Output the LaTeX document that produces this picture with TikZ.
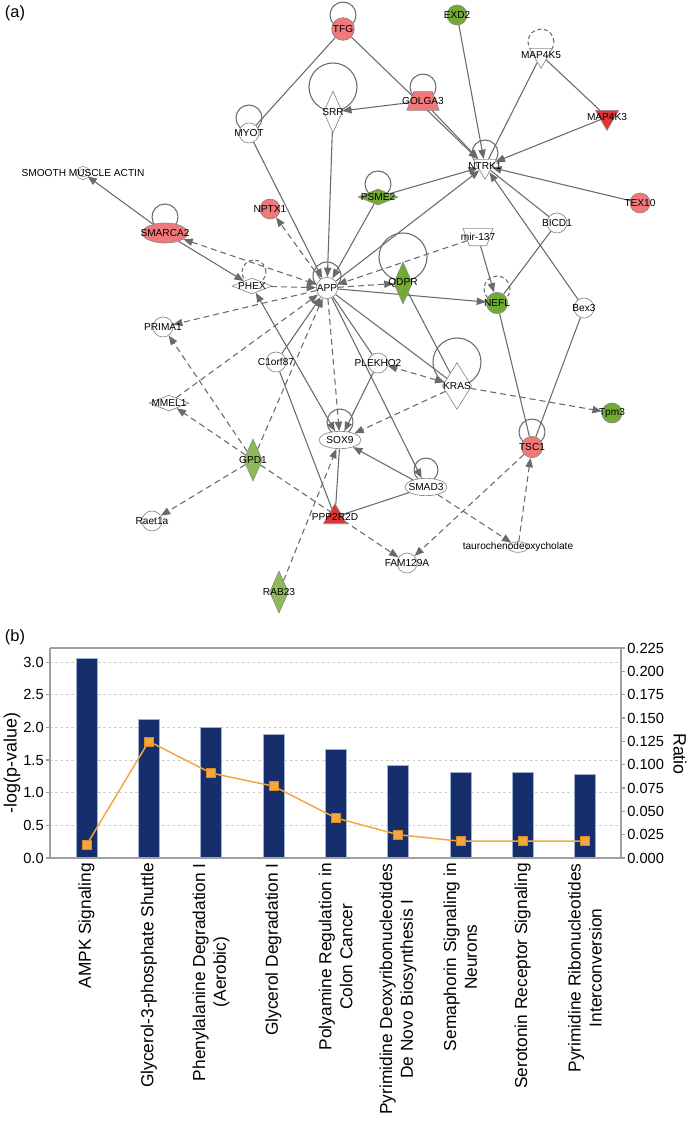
\documentclass[tikz,border=0pt]{standalone}
\usepackage{fontspec}
\setmainfont{Liberation Sans}
\usetikzlibrary{shapes.geometric,arrows.meta,calc,backgrounds}
\definecolor{UpRed}{HTML}{F07878}
\definecolor{StrongRed}{HTML}{E03434}
\definecolor{DownGreen}{HTML}{72AB32}
\definecolor{LightGreen}{HTML}{8EBB58}
\definecolor{EdgeGray}{HTML}{6A6A6A}
\definecolor{NodeGray}{HTML}{8A8A8A}
\definecolor{BarNavy}{HTML}{172E6C}
\definecolor{BarEdge}{HTML}{9FB0D0}
\definecolor{RatioOrange}{HTML}{F4A640}
\definecolor{SqEdge}{HTML}{D98A1E}
\definecolor{AxisGray}{HTML}{A0A0A0}
\definecolor{GridGray}{HTML}{D0D0D0}
\tikzset{
  gn/.style={draw=NodeGray,line width=0.5pt,fill=white,inner sep=0pt},
  gc/.style={gn,circle,minimum size=15pt},
  gdt/.style={gn,diamond,minimum width=14pt,minimum height=31.5pt},
  gdw/.style={gn,diamond,minimum width=30pt,minimum height=12pt},
  gel/.style={gn,ellipse,minimum width=31.5pt,minimum height=13pt},
  gtri/.style={gn,regular polygon,regular polygon sides=3,minimum size=20pt},
  gtrap/.style={gn,trapezium,trapezium angle=70,inner sep=1pt,
    minimum width=18pt,minimum height=14pt},
  gl/.style={font=\fontsize{7.6}{8}\selectfont,inner sep=0pt,text=black},
  nm/.style={label={[gl]center:#1}},
  ln/.style={draw=EdgeGray,line width=0.8pt},
  act/.style={ln,-{Triangle[length=7pt,width=5.5pt]}},
  both/.style={ln,{Triangle[length=7pt,width=5.5pt]}-{Triangle[length=7pt,width=5.5pt]}},
  dsh/.style={dash pattern=on 4.5pt off 3pt},
  loopc/.style={draw=EdgeGray,line width=0.8pt},
  dloop/.style={dash pattern=on 3pt off 2pt},
  panel/.style={font=\fontsize{12.3}{14}\selectfont,inner sep=0pt},
  bar/.style={fill=BarNavy,draw=BarEdge,line width=0.4pt},
  ratioln/.style={draw=RatioOrange,line width=1.1pt},
  sqm/.style={fill=RatioOrange,draw=SqEdge,line width=0.4pt},
  axisln/.style={draw=AxisGray,line width=0.9pt},
  gridln/.style={draw=GridGray,line width=0.5pt,dash pattern=on 2pt off 2pt},
  tick/.style={font=\fontsize{11}{13}\selectfont,inner sep=0pt},
  axt/.style={font=\fontsize{13.4}{15}\selectfont,inner sep=0pt},
  xlab/.style={rotate=90,anchor=east,align=center,inner sep=0pt,
    font=\fontsize{13}{15.6}\selectfont},
}
\newcommand{\gloop}[4][]{\draw[loopc,#1] ($(#2)+(#3)$) circle[radius=#4*0.75pt];}

\begin{document}
\begin{tikzpicture}[x=0.75pt,y=-0.75pt]
\useasboundingbox (0,0) rectangle (689,1122);

\node[panel] (pa) at (15,13) {(a)};

% genes of the network
\node[gc,fill=UpRed,minimum size=17pt,nm=TFG] (tfg) at (343,29) {};
\node[gc,fill=DownGreen,nm=EXD2] (exd2) at (457,15) {};
\node[gtri,shape border rotate=180,nm=MAP4K5] (map4k5) at (541,55) {};
\node[gtrap,fill=UpRed,nm=GOLGA3] (golga3) at (423,101) {};
\node[gdt,nm=SRR] (srr) at (333,112) {};
\node[gc,nm=MYOT] (myot) at (249,133) {};
\node[gtri,fill=StrongRed,shape border rotate=180,nm=MAP4K3] (map4k3) at (607,117) {};
\node[gtri,shape border rotate=180,nm=NTRK1] (ntrk1) at (485,166) {};
\node[gn,circle,double=white,double distance=1.4pt,minimum size=8pt,nm=SMOOTH MUSCLE ACTIN] (sma) at (83,173) {};
\node[gdw,fill=DownGreen,nm=PSME2] (psme2) at (378,197) {};
\node[gc,fill=UpRed,nm=TEX10] (tex10) at (640,203) {};
\node[gc,fill=UpRed,nm=NPTX1] (nptx1) at (270,209) {};
\node[gel,fill=UpRed,minimum width=34pt,minimum height=15pt,nm=SMARCA2] (smarca2) at (165,233) {};
\node[gc,nm=BICD1] (bicd1) at (557,223) {};
\node[gtrap,shape border rotate=180,minimum width=13pt,minimum height=13pt,nm=mir-137] (mir137) at (478,237) {};
\node[gdt,fill=DownGreen,nm=QDPR] (qdpr) at (403,283) {};
\node[gdw,nm=PHEX] (phex) at (252,286) {};
\node[gc,minimum size=16pt,nm=APP] (app) at (327,288) {};
\node[gc,fill=DownGreen,minimum size=16pt,nm=NEFL] (nefl) at (497,303) {};
\node[gc,nm=Bex3] (bex3) at (584,308) {};
\node[gc,nm=PRIMA1] (prima1) at (163,327) {};
\node[gc,nm=C1orf87] (c1orf87) at (276,362) {};
\node[gc,nm=PLEKHO2] (plekho2) at (378,363) {};
\node[gdw,nm=MMEL1] (mmel1) at (169,403) {};
\node[gdt,minimum width=22pt,minimum height=35pt,nm=KRAS] (kras) at (457,386) {};
\node[gc,fill=DownGreen,nm=Tpm3] (tpm3) at (612,413) {};
\node[gel,nm=SOX9] (sox9) at (340,440) {};
\node[gc,fill=UpRed,minimum size=16pt,nm=TSC1] (tsc1) at (532,447) {};
\node[gdt,fill=LightGreen,nm=GPD1] (gpd1) at (253,460) {};
\node[gel,nm=SMAD3] (smad3) at (426,487) {};
\node[gc,nm=Raet1a] (raet1a) at (152,521) {};
\node[gtri,fill=StrongRed,minimum size=20pt,nm=PPP2R2D] (ppp2r2d) at (335,517) {};
\node[gel,minimum width=15pt,minimum height=8pt,nm=taurochenodeoxycholate] (tauro) at (518,547) {};
\node[gc,nm=FAM129A] (fam129a) at (407,563) {};
\node[gdt,fill=LightGreen,nm=RAB23] (rab23) at (279,592) {};

\begin{scope}[on background layer]
% self loops
\gloop{tfg}{0,-14}{13}
\gloop{golga3}{0,-14}{13}
\gloop{srr}{0,-25}{24}
\gloop{myot}{0,-15}{13}
\gloop[dloop]{map4k5}{0,-13}{13}
\gloop{ntrk1}{0,-13}{13}
\gloop{psme2}{0,-13}{13}
\gloop{smarca2}{0,-16}{13}
\gloop{qdpr}{0,-26}{24}
\gloop[dloop]{phex}{2,-14}{12}
\gloop{app}{0,-12}{14}
\gloop[dloop]{nefl}{0,-14}{13}
\gloop{kras}{0,-24}{24}
\gloop{sox9}{0,-18}{13}
\gloop{tsc1}{0,-15}{13}
\gloop{smad3}{0,-17}{12}

% relations
\foreach \a/\b in {tfg/ntrk1,golga3/ntrk1,golga3/srr,exd2/ntrk1,map4k3/ntrk1,
    tex10/ntrk1,psme2/ntrk1,app/ntrk1,bex3/ntrk1,psme2/app,srr/app,myot/app,
    c1orf87/app,smarca2/phex,smarca2/sma,app/nefl,mir137/nefl,app/smad3,
    plekho2/sox9,smad3/sox9}
  \draw[act] (\a) -- (\b);
\draw[both] (phex) -- (sox9);
\foreach \a/\b in {tfg/myot,ntrk1/map4k5,map4k5/map4k3,ntrk1/bicd1,bicd1/nefl,
    nefl/tsc1,bex3/tsc1,c1orf87/ppp2r2d,sox9/ppp2r2d,smad3/ppp2r2d,app/kras,
    qdpr/kras,app/plekho2}
  \draw[ln] (\a) -- (\b);
\foreach \a/\b in {app/nptx1,phex/app,app/prima1,mmel1/app,gpd1/app,gpd1/prima1,
    gpd1/mmel1,gpd1/raet1a,gpd1/fam129a,mir137/app,app/qdpr,app/sox9,kras/sox9,
    kras/tpm3,rab23/sox9,smad3/tauro,tauro/tsc1,tsc1/fam129a}
  \draw[act,dsh] (\a) -- (\b);
\draw[both,dsh] (smarca2) -- (app);
\draw[both,dsh] (kras) -- (plekho2);
\end{scope}

% (b) chart
\node[panel] (pb) at (15,637) {(b)};
\foreach \k in {1,...,6}
  \draw[gridln] (50,{858-32.65*\k}) -- (621,{858-32.65*\k});
\foreach \n/\v in {1/3.06,2/2.13,3/2.00,4/1.90,5/1.67,6/1.42,7/1.31,8/1.31,9/1.29}
  \filldraw[bar] ({24.2+62.3*\n-10.5},858) rectangle ({24.2+62.3*\n+10.5},{858-65.3*\v});
\draw[ratioln] (86.5,845)
  \foreach \n/\r in {2/0.125,3/0.091,4/0.077,5/0.043,6/0.025,7/0.018,8/0.018,9/0.018}
  { -- ({24.2+62.3*\n},{858-933.3*\r}) };
\foreach \n/\r in {1/0.014,2/0.125,3/0.091,4/0.077,5/0.043,6/0.025,7/0.018,8/0.018,9/0.018}
  \filldraw[sqm] ({24.2+62.3*\n-4.5},{858-933.3*\r-4.5}) rectangle +(9,9);
\draw[axisln] (50,648) -- (621,648);
\draw[axisln] (50,648) -- (50,858) -- (621,858) -- (621,648);
\foreach \k/\t in {0/0.0,1/0.5,2/1.0,3/1.5,4/2.0,5/2.5,6/3.0} {
  \draw[axisln] (46,{858-32.65*\k}) -- (50,{858-32.65*\k});
  \node[tick,anchor=east] (yl\k) at (44,{858-32.65*\k}) {\t};
}
\foreach \k/\t in {0/0.000,1/0.025,2/0.050,3/0.075,4/0.100,5/0.125,6/0.150,
    7/0.175,8/0.200,9/0.225} {
  \draw[axisln] (621,{858-23.333*\k}) -- (625,{858-23.333*\k});
  \node[tick,anchor=west] (yr\k) at (627,{858-23.333*\k}) {\t};
}
\node[axt,rotate=90] (ytl) at (12,763) {-log(p-value)};
\node[axt,rotate=-90] (ytr) at (680,754) {Ratio};
\foreach \n/\t in {1/AMPK Signaling,2/Glycerol-3-phosphate Shuttle,
    3/{Phenylalanine Degradation I\\(Aerobic)},4/Glycerol Degradation I,
    5/{Polyamine Regulation in\\Colon Cancer},
    6/{Pyrimidine Deoxyribonucleotides\\De Novo Biosynthesis I},
    7/{Semaphorin Signaling in\\Neurons},8/Serotonin Receptor Signaling,
    9/{Pyrimidine Ribonucleotides\\Interconversion}}
  \node[xlab] (xl\n) at ({24.2+62.3*\n},863) {\t};
\end{tikzpicture}
\end{document}
